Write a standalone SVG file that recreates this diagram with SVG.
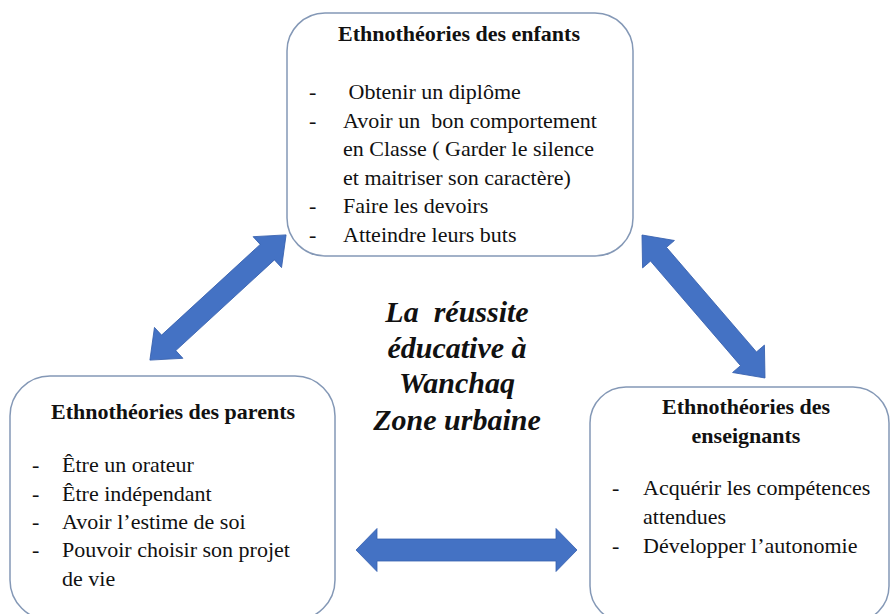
<svg xmlns="http://www.w3.org/2000/svg" width="891" height="614" viewBox="0 0 891 614">
<style>
.box{fill:#fff;stroke:#8498B6;stroke-width:1.5}
.t{font-family:"Liberation Serif","Times New Roman",serif;font-size:22px;fill:#111;white-space:pre}
.h{font-weight:bold;text-anchor:middle}
.c{font-family:"Liberation Serif","Times New Roman",serif;font-size:30px;font-weight:bold;font-style:italic;text-anchor:middle;fill:#111;white-space:pre}
.arr{fill:#4472C4;stroke:#3660AE;stroke-width:0.8}
</style>
<rect width="891" height="614" fill="#fff"/>
<g id="connectors">
<polygon class="arr" transform="translate(218,297.5) rotate(-42.6)" points="-92.5,0 -67,-21 -67,-10.5 67,-10.5 67,-21 92.5,0 67,21 67,10.5 -67,10.5 -67,21"/>
<polygon class="arr" transform="translate(703.5,306.5) rotate(49.3)" points="-94.3,0 -69,-21 -69,-10.5 69,-10.5 69,-21 94.3,0 69,21 69,10.5 -69,10.5 -69,21"/>
<polygon class="arr" transform="translate(466.5,550)" points="-110.5,0 -89.5,-21.5 -89.5,-11 89.5,-11 89.5,-21.5 110.5,0 89.5,21.5 89.5,11 -89.5,11 -89.5,21.5"/>
</g>
<g id="enfants">
<rect class="box" x="287" y="13" width="346" height="243" rx="38"/>
<text class="t h" x="459" y="41">Ethnothéories des enfants</text>
<text class="t" x="309" y="99">-</text>
<text class="t" x="343" y="99"> Obtenir un diplôme</text>
<text class="t" x="309" y="128">-</text>
<text class="t" x="343" y="128">Avoir un  bon comportement</text>
<text class="t" x="343" y="156">en Classe ( Garder le silence</text>
<text class="t" x="343" y="185">et maitriser son caractère)</text>
<text class="t" x="309" y="213">-</text>
<text class="t" x="343" y="213">Faire les devoirs</text>
<text class="t" x="309" y="242">-</text>
<text class="t" x="343" y="242">Atteindre leurs buts</text>
</g>
<g id="parents">
<rect class="box" x="10" y="376" width="325" height="244" rx="40"/>
<text class="t h" x="173" y="419">Ethnothéories des parents</text>
<text class="t" x="32" y="472">-</text>
<text class="t" x="62" y="472">Être un orateur</text>
<text class="t" x="32" y="501">-</text>
<text class="t" x="62" y="501">Être indépendant</text>
<text class="t" x="32" y="529">-</text>
<text class="t" x="62" y="529">Avoir l’estime de soi</text>
<text class="t" x="32" y="557">-</text>
<text class="t" x="62" y="557">Pouvoir choisir son projet</text>
<text class="t" x="62" y="586">de vie</text>
</g>
<g id="enseignants">
<rect class="box" x="590" y="387" width="299" height="235" rx="36"/>
<text class="t h" x="746" y="414">Ethnothéories des</text>
<text class="t h" x="746" y="443">enseignants</text>
<text class="t" x="612" y="495">-</text>
<text class="t" x="643" y="495">Acquérir les compétences</text>
<text class="t" x="643" y="524">attendues</text>
<text class="t" x="612" y="553">-</text>
<text class="t" x="643" y="553">Développer l’autonomie</text>
</g>
<g id="centre">
<text class="c" x="457" y="322">La  réussite</text>
<text class="c" x="457" y="357.5">éducative à</text>
<text class="c" x="457" y="393">Wanchaq</text>
<text class="c" x="457" y="430">Zone urbaine</text>
</g>
</svg>
